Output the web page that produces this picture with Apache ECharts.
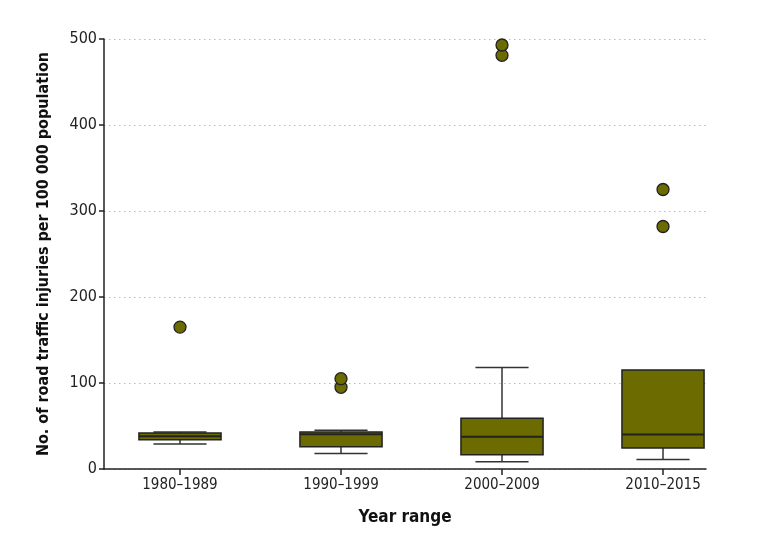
<!DOCTYPE html>
<html>
<head>
<meta charset="utf-8">
<script src="https://cdn.jsdelivr.net/npm/echarts@6/dist/echarts.min.js"></script>
<style>
  html, body { margin: 0; padding: 0; background: #fff; }
  #chart { width: 771px; height: 548px; }
</style>
</head>
<body>
<div id="chart"></div>
<script>
// 箱线图数据
const categories = ['1980–1989', '1990–1999', '2000–2009', '2010–2015'];
const whiskerLow = [29, 18, 8.5, 11];
const q1 = [34, 26, 16.5, 24.5];
const median = [38, 40.5, 37.5, 40];
const q3 = [42, 43, 59, 115];
const whiskerHigh = [43, 45, 118, 115];
const outliers = [[165], [95, 105], [481, 493], [282, 325]];
const yTicks = [0, 100, 200, 300, 400, 500];

const FONT = "'Liberation Sans Narrow', 'DejaVu Sans Condensed', 'Roboto Condensed', sans-serif";
const OLIVE = '#6b6b00';

const boxData = categories.map((c, i) => [i + 1, whiskerLow[i], q1[i], median[i], q3[i], whiskerHigh[i]]);
const outlierData = [];
outliers.forEach((list, i) => list.forEach(v => outlierData.push([i + 1, v])));

// 自定义箱体绘制
function renderBox(params, api) {
  const x = api.value(0);
  const lo = api.coord([x, api.value(1)]);
  const b1 = api.coord([x, api.value(2)]);
  const md = api.coord([x, api.value(3)]);
  const b3 = api.coord([x, api.value(4)]);
  const hi = api.coord([x, api.value(5)]);
  const boxW = api.size([0.51, 0])[0];
  const capW = api.size([0.33, 0])[0];
  const cx = lo[0];
  const lineStyle = { stroke: '#333', lineWidth: 1.5 };
  const children = [];
  if (hi[1] < b3[1] - 0.5) {
    children.push({ type: 'line', shape: { x1: cx, y1: hi[1], x2: cx, y2: b3[1] }, style: lineStyle });
    children.push({ type: 'line', shape: { x1: cx - capW / 2, y1: hi[1], x2: cx + capW / 2, y2: hi[1] }, style: lineStyle });
  }
  children.push({ type: 'line', shape: { x1: cx, y1: b1[1], x2: cx, y2: lo[1] }, style: lineStyle });
  children.push({ type: 'line', shape: { x1: cx - capW / 2, y1: lo[1], x2: cx + capW / 2, y2: lo[1] }, style: lineStyle });
  children.push({
    type: 'rect',
    shape: { x: cx - boxW / 2, y: b3[1], width: boxW, height: b1[1] - b3[1] },
    style: { fill: OLIVE, stroke: '#222', lineWidth: 1.5 }
  });
  children.push({ type: 'line', shape: { x1: cx - boxW / 2, y1: md[1], x2: cx + boxW / 2, y2: md[1] }, style: { stroke: '#222', lineWidth: 2 } });
  return { type: 'group', children: children };
}

const chart = echarts.init(document.getElementById('chart'), null, { renderer: 'canvas' });
chart.setOption({
  backgroundColor: '#fff',
  animation: false,
  grid: { left: 104, right: 65, top: 39, bottom: 79 },
  xAxis: {
    type: 'value',
    min: 0.528,
    max: 4.267,
    name: 'Year range',
    nameLocation: 'middle',
    nameGap: 40,
    nameTextStyle: { fontFamily: FONT, fontSize: 17, fontWeight: 'bold', color: '#111' },
    axisLine: { show: true, lineStyle: { color: '#222', width: 1.5 } },
    axisTick: { show: true, customValues: [1, 2, 3, 4], length: 6, lineStyle: { color: '#222', width: 1.5 } },
    axisLabel: {
      customValues: [1, 2, 3, 4],
      formatter: v => categories[Math.round(v) - 1] || '',
      fontFamily: FONT, fontSize: 15, color: '#222', margin: 9
    },
    splitLine: { show: false }
  },
  yAxis: {
    type: 'value',
    min: 0,
    max: 500,
    interval: 100,
    name: 'No. of road traffic injuries per 100 000 population',
    nameLocation: 'middle',
    nameGap: 52,
    nameTextStyle: { fontFamily: FONT, fontSize: 16, fontWeight: 'bold', color: '#111' },
    axisLine: { show: true, lineStyle: { color: '#222', width: 1.5 } },
    axisTick: { show: true, length: 5, lineStyle: { color: '#222', width: 1.5 } },
    axisLabel: {
      formatter: v => yTicks.includes(v) ? String(v) : '',
      fontFamily: FONT, fontSize: 16, color: '#222', margin: 7
    },
    splitLine: { show: true, lineStyle: { color: '#bbb', type: [1.5, 3.5], width: 1 } }
  },
  series: [
    {
      type: 'custom',
      renderItem: renderBox,
      data: boxData,
      encode: { x: 0, y: [1, 2, 3, 4, 5] },
      z: 2
    },
    {
      type: 'scatter',
      data: outlierData,
      symbol: 'circle',
      symbolSize: 12,
      itemStyle: { color: OLIVE, opacity: 1, borderColor: '#222', borderWidth: 1.3 },
      z: 3
    }
  ]
});
</script>
</body>
</html>
